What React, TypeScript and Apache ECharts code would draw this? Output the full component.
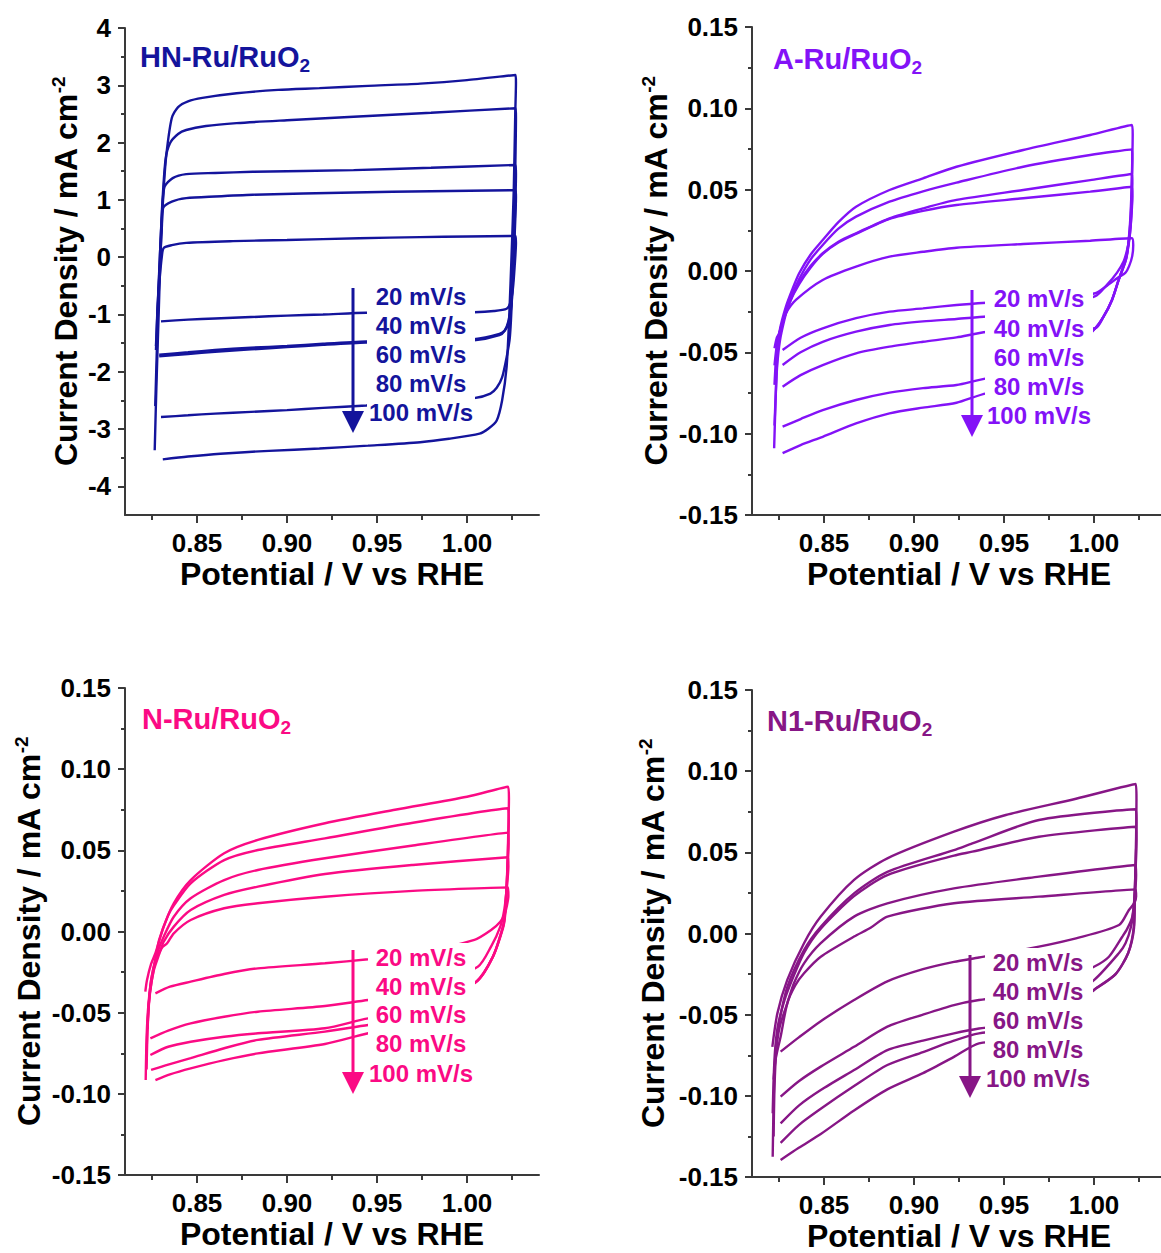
import React, { useEffect, useRef } from 'react';
import * as echarts from 'echarts';

type Pt = [number, number];

// ---------------- HN-Ru/RuO2 (current density, mA cm-2) ----------------
const hn20: Pt[] = [
  [0.828, -1.0], [0.8292, -0.4], [0.8305, 0.02], [0.8315, 0.16], [0.836, 0.21], [0.844, 0.25], [0.87, 0.28], [0.9, 0.3], [0.94, 0.33], [0.974, 0.35], [1.0, 0.36], [1.027, 0.37],
  [1.0272, 0.25], [1.0265, -0.15], [1.0255, -0.55], [1.024, -0.8], [1.022, -0.9], [1.015, -0.94], [1.004, -0.96], [0.975, -0.965], [0.944, -0.97],
  [0.92, -1.0], [0.9, -1.02], [0.88, -1.045], [0.86, -1.07], [0.845, -1.09], [0.83, -1.12],
];
const hn40: Pt[] = [
  [0.8272, -1.55], [0.8282, -0.8], [0.8295, -0.1], [0.8305, 0.55], [0.8312, 0.86], [0.836, 0.97], [0.844, 1.03], [0.86, 1.06], [0.881, 1.09], [0.937, 1.13], [0.98, 1.15], [1.027, 1.17],
  [1.0272, 1.05], [1.0265, 0.4], [1.0255, -0.4], [1.0245, -0.9], [1.023, -1.15], [1.021, -1.28], [1.018, -1.34], [1.004, -1.43], [0.975, -1.45], [0.944, -1.47],
  [0.92, -1.51], [0.9, -1.55], [0.88, -1.58], [0.86, -1.62], [0.845, -1.66], [0.829, -1.7],
];
const hn60: Pt[] = [
  [0.8272, -1.62], [0.8285, -0.6], [0.8298, 0.3], [0.8308, 0.9], [0.832, 1.23], [0.8365, 1.38], [0.844, 1.45], [0.86, 1.47], [0.881, 1.49], [0.937, 1.52], [0.98, 1.56], [1.027, 1.61],
  [1.0272, 1.45], [1.0265, 0.6], [1.0255, -0.3], [1.0245, -0.85], [1.023, -1.12], [1.021, -1.28], [1.018, -1.36], [1.004, -1.45], [0.975, -1.47], [0.944, -1.49],
  [0.92, -1.53], [0.9, -1.57], [0.88, -1.61], [0.86, -1.65], [0.845, -1.69], [0.829, -1.73],
];
const hn80: Pt[] = [
  [0.8268, -2.6], [0.8278, -1.5], [0.829, -0.3], [0.8305, 0.8], [0.8325, 1.7], [0.835, 1.99], [0.8395, 2.15], [0.844, 2.22], [0.855, 2.29], [0.872, 2.34], [0.9, 2.39], [0.937, 2.45], [0.98, 2.52], [1.027, 2.6],
  [1.0272, 2.45], [1.0268, 1.5], [1.026, 0.3], [1.025, -0.7], [1.0238, -1.4], [1.022, -1.75], [1.0195, -2.1], [1.0165, -2.28], [1.013, -2.38], [1.004, -2.46], [0.975, -2.52], [0.944, -2.59],
  [0.92, -2.63], [0.9, -2.67], [0.88, -2.7], [0.86, -2.73], [0.845, -2.76], [0.83, -2.79],
];
const hn100: Pt[] = [
  [0.8265, -3.37], [0.8275, -2.2], [0.8288, -0.9], [0.83, 0.3], [0.8315, 1.2], [0.833, 1.8], [0.836, 2.43], [0.8395, 2.62], [0.845, 2.72], [0.853, 2.78], [0.872, 2.86], [0.895, 2.92], [0.918, 2.95], [0.945, 2.99], [0.974, 3.03], [1.0, 3.09], [1.027, 3.18],
  [1.0272, 3.05], [1.0268, 2.5], [1.026, 1.2], [1.0248, 0.07], [1.0235, -1.0], [1.022, -1.92], [1.0195, -2.5], [1.0165, -2.85], [1.012, -2.99], [1.007, -3.08], [0.99, -3.17], [0.974, -3.23],
  [0.945, -3.29], [0.918, -3.34], [0.89, -3.38], [0.863, -3.43], [0.845, -3.48], [0.831, -3.53],
];

// ---------------- A-Ru/RuO2 ----------------
const a20: Pt[] = [
  [0.8225, -0.0475], [0.8238, -0.041], [0.8251, -0.0383], [0.827, -0.032], [0.8288, -0.026], [0.8344, -0.0178], [0.8493, -0.0055], [0.8678, 0.0027], [0.8864, 0.0088], [0.905, 0.0118], [0.9236, 0.0143], [0.9607, 0.0166], [0.9979, 0.0186], [1.0211, 0.0201],
  [1.0218, 0.016], [1.0212, 0.009], [1.0195, 0.003], [1.0175, -0.001], [1.0128, -0.0045], [1.0072, -0.009], [1.0007, -0.0137], [0.97, -0.0175], [0.9403, -0.0195],
  [0.9236, -0.0209], [0.905, -0.023], [0.8864, -0.025], [0.8678, -0.029], [0.8493, -0.0352], [0.837, -0.041], [0.827, -0.0486],
];
const a40: Pt[] = [
  [0.8225, -0.058], [0.8235, -0.048], [0.8248, -0.04], [0.827, -0.031], [0.831, -0.019], [0.8362, -0.008], [0.8425, 0.002], [0.8493, 0.0105], [0.858, 0.0175], [0.8678, 0.0228], [0.8864, 0.032], [0.905, 0.037], [0.9236, 0.0406], [0.9607, 0.0447], [0.9979, 0.0488], [1.0211, 0.0518],
  [1.0213, 0.046], [1.0208, 0.034], [1.0198, 0.021], [1.0184, 0.013], [1.0165, 0.006], [1.0128, -0.001], [1.0072, -0.0085], [1.0007, -0.0155], [0.97, -0.026], [0.9403, -0.028],
  [0.9236, -0.0295], [0.905, -0.031], [0.8864, -0.0332], [0.8678, -0.0373], [0.8493, -0.0435], [0.837, -0.05], [0.827, -0.0578],
];
const a60: Pt[] = [
  [0.8225, -0.07], [0.8232, -0.056], [0.8242, -0.045], [0.826, -0.035], [0.8295, -0.024], [0.8325, -0.015], [0.8362, -0.007], [0.8425, 0.003], [0.8493, 0.0109], [0.858, 0.018], [0.8678, 0.0232], [0.8864, 0.0324], [0.905, 0.0385], [0.9236, 0.0437], [0.9607, 0.0498], [0.9979, 0.0559], [1.0211, 0.0596],
  [1.0213, 0.054], [1.021, 0.04], [1.0203, 0.027], [1.0192, 0.016], [1.0175, 0.006], [1.0137, -0.0055], [1.01, -0.0178], [1.0053, -0.0281], [1.0007, -0.0352], [0.97, -0.036], [0.9403, -0.0375],
  [0.9236, -0.0408], [0.905, -0.0435], [0.8864, -0.0465], [0.8678, -0.0506], [0.8493, -0.0578], [0.837, -0.064], [0.827, -0.0711],
];
const a80: Pt[] = [
  [0.8225, -0.095], [0.8232, -0.075], [0.824, -0.058], [0.8255, -0.043], [0.828, -0.03], [0.831, -0.018], [0.8362, -0.005], [0.8425, 0.007], [0.8493, 0.016], [0.858, 0.026], [0.8678, 0.0334], [0.8864, 0.0426], [0.905, 0.049], [0.9236, 0.0543], [0.9607, 0.0641], [0.9979, 0.0713], [1.0211, 0.0748],
  [1.0213, 0.069], [1.021, 0.052], [1.0205, 0.035], [1.0195, 0.021], [1.018, 0.008], [1.0137, -0.0055], [1.01, -0.0178], [1.0053, -0.0281], [1.0007, -0.0352], [0.97, -0.063], [0.9403, -0.066],
  [0.9236, -0.0701], [0.905, -0.072], [0.8864, -0.0748], [0.8678, -0.0793], [0.8493, -0.0855], [0.837, -0.091], [0.827, -0.0957],
];
const a100: Pt[] = [
  [0.8223, -0.109], [0.8228, -0.09], [0.8234, -0.07], [0.8242, -0.05], [0.8255, -0.036], [0.8288, -0.022], [0.8325, -0.011], [0.8362, -0.0014], [0.8425, 0.01], [0.8493, 0.019], [0.858, 0.03], [0.8678, 0.0395], [0.8864, 0.0498], [0.905, 0.057], [0.9236, 0.0641], [0.9607, 0.0744], [0.9979, 0.0836], [1.0211, 0.0898],
  [1.0215, 0.084], [1.0212, 0.065], [1.0207, 0.045], [1.0198, 0.026], [1.0182, 0.01], [1.0137, -0.0055], [1.01, -0.0178], [1.0053, -0.0281], [1.0007, -0.0352], [0.97, -0.072], [0.9403, -0.0752],
  [0.9236, -0.081], [0.905, -0.084], [0.8864, -0.0875], [0.8678, -0.0937], [0.8493, -0.1019], [0.837, -0.107], [0.827, -0.112],
];

// ---------------- N-Ru/RuO2 ----------------
const n20: Pt[] = [
  [0.8225, -0.06], [0.8232, -0.045], [0.8245, -0.03], [0.827, -0.018], [0.8305, -0.01], [0.8334, -0.0073], [0.8371, -0.0011], [0.8465, 0.0071], [0.8651, 0.0143], [0.8838, 0.0174], [0.9211, 0.0214], [0.97, 0.025], [1.0228, 0.0272],
  [1.023, 0.022], [1.0222, 0.016], [1.021, 0.011], [1.0185, 0.006], [1.0134, 0.0009], [1.0041, -0.0052], [0.97, -0.014], [0.9451, -0.0171],
  [0.9211, -0.0196], [0.8838, -0.0227], [0.8651, -0.0262], [0.8465, -0.0309], [0.835, -0.034], [0.8269, -0.0381],
];
const n40: Pt[] = [
  [0.822, -0.075], [0.8226, -0.055], [0.8238, -0.038], [0.826, -0.024], [0.829, -0.014], [0.8315, -0.0063], [0.8371, 0.003], [0.8465, 0.0132], [0.8651, 0.0225], [0.8838, 0.0276], [0.9211, 0.0354], [0.97, 0.041], [1.0228, 0.0457],
  [1.023, 0.04], [1.0222, 0.028], [1.0208, 0.014], [1.0185, 0.003], [1.0135, -0.009], [1.006, -0.0217], [0.97, -0.039], [0.9451, -0.0422],
  [0.9211, -0.0459], [0.8838, -0.0494], [0.8651, -0.0525], [0.8465, -0.0566], [0.834, -0.061], [0.8241, -0.0658],
];
const n60: Pt[] = [
  [0.822, -0.085], [0.8225, -0.062], [0.8235, -0.042], [0.8255, -0.026], [0.828, -0.013], [0.8315, -0.0032], [0.8371, 0.0091], [0.8465, 0.0205], [0.8651, 0.0317], [0.8838, 0.0379], [0.9211, 0.0451], [0.97, 0.053], [1.0228, 0.0609],
  [1.0231, 0.054], [1.0225, 0.038], [1.0216, 0.02], [1.021, 0.01], [1.02, 0.003], [1.0144, -0.0155], [1.0051, -0.031], [0.97, -0.05], [0.9451, -0.0535],
  [0.9211, -0.0596], [0.8838, -0.0627], [0.8651, -0.0648], [0.8465, -0.0679], [0.834, -0.071], [0.8241, -0.0761],
];
const n80: Pt[] = [
  [0.8215, -0.0915], [0.822, -0.065], [0.823, -0.045], [0.8245, -0.03], [0.827, -0.016], [0.829, -0.005], [0.834, 0.01], [0.8371, 0.016], [0.8465, 0.0297], [0.8651, 0.044], [0.8838, 0.0502], [0.9211, 0.0574], [0.97, 0.067], [1.0228, 0.0759],
  [1.0232, 0.068], [1.0227, 0.048], [1.022, 0.028], [1.021, 0.01], [1.02, 0.003], [1.0144, -0.0155], [1.0051, -0.031], [0.97, -0.054], [0.9451, -0.0576],
  [0.9211, -0.0617], [0.8838, -0.0668], [0.8651, -0.0719], [0.8465, -0.078], [0.834, -0.082], [0.8245, -0.0853],
];
const n100: Pt[] = [
  [0.8213, -0.037], [0.8222, -0.03], [0.8245, -0.02], [0.8269, -0.0134], [0.8315, 0.003], [0.8371, 0.0174], [0.8465, 0.0317], [0.8651, 0.0482], [0.8838, 0.0564], [0.9211, 0.0667], [0.96, 0.075], [1.0, 0.083], [1.0228, 0.0892],
  [1.0233, 0.082], [1.0229, 0.06], [1.0222, 0.03], [1.0212, 0.01], [1.02, 0.002], [1.0144, -0.0155], [1.0051, -0.031], [0.97, -0.058], [0.9451, -0.0627],
  [0.9211, -0.0693], [0.8838, -0.0751], [0.8651, -0.0792], [0.8465, -0.0843], [0.835, -0.088], [0.8269, -0.0915],
];

// ---------------- N1-Ru/RuO2 ----------------
const m20: Pt[] = [
  [0.822, -0.09], [0.8232, -0.077], [0.8259, -0.0636], [0.8296, -0.043], [0.834, -0.032], [0.8389, -0.0245], [0.8482, -0.0143], [0.8667, -0.0019], [0.8759, 0.0035], [0.8852, 0.0104], [0.9222, 0.0186], [0.9694, 0.0227], [1.0232, 0.0272],
  [1.0234, 0.023], [1.0225, 0.019], [1.0194, 0.0145], [1.0139, 0.0052], [0.99, -0.003], [0.9694, -0.0081], [0.9361, -0.0148],
  [0.9222, -0.0175], [0.905, -0.022], [0.8852, -0.0295], [0.8667, -0.041], [0.8482, -0.054], [0.836, -0.064], [0.8259, -0.0728],
];
const m40: Pt[] = [
  [0.822, -0.125], [0.8225, -0.095], [0.8235, -0.072], [0.8255, -0.057], [0.8296, -0.043], [0.8333, -0.0307], [0.8389, -0.0184], [0.8482, -0.006], [0.8667, 0.0104], [0.8852, 0.0186], [0.9222, 0.0278], [0.9694, 0.035], [1.0232, 0.0422],
  [1.0234, 0.036], [1.0227, 0.024], [1.0212, 0.01], [1.0185, 0.003], [1.0157, -0.002], [1.0083, -0.0143], [1.0, -0.0205], [0.97, -0.036], [0.9361, -0.041],
  [0.9222, -0.0441], [0.905, -0.05], [0.8852, -0.0574], [0.8667, -0.0698], [0.8482, -0.082], [0.836, -0.091], [0.8259, -0.1005],
];
const m60: Pt[] = [
  [0.8215, -0.1107], [0.822, -0.09], [0.8228, -0.072], [0.8242, -0.058], [0.8265, -0.047], [0.8296, -0.036], [0.8389, -0.012], [0.8482, 0.003], [0.8667, 0.023], [0.8852, 0.036], [0.9222, 0.048], [0.9324, 0.0504], [0.9694, 0.0596], [1.0232, 0.0658],
  [1.0235, 0.058], [1.0231, 0.04], [1.0222, 0.018], [1.0205, 0.004], [1.0175, -0.006], [1.0139, -0.012], [1.0, -0.0287], [0.97, -0.053], [0.9361, -0.0585],
  [0.9222, -0.0615], [0.905, -0.066], [0.8852, -0.0718], [0.8667, -0.0841], [0.8482, -0.0964], [0.836, -0.106], [0.8259, -0.117],
];
const m80: Pt[] = [
  [0.8215, -0.1375], [0.8219, -0.11], [0.8225, -0.085], [0.8235, -0.068], [0.8252, -0.054], [0.8296, -0.033], [0.8389, -0.0102], [0.8482, 0.0042], [0.8667, 0.0247], [0.8852, 0.038], [0.9222, 0.0514], [0.9324, 0.0555], [0.9694, 0.0699], [1.0232, 0.0765],
  [1.0236, 0.068], [1.0233, 0.045], [1.0226, 0.02], [1.0222, 0.003], [1.019, -0.012], [1.012, -0.025], [1.0, -0.0348], [0.97, -0.057], [0.9361, -0.0615],
  [0.9222, -0.066], [0.905, -0.073], [0.8852, -0.081], [0.8667, -0.094], [0.8482, -0.108], [0.836, -0.118], [0.8259, -0.129],
];
const m100: Pt[] = [
  [0.8213, -0.0698], [0.8241, -0.0492], [0.8296, -0.0286], [0.8389, -0.006], [0.8482, 0.0104], [0.8667, 0.033], [0.8852, 0.0463], [0.9222, 0.0627], [0.951, 0.073], [0.99, 0.083], [1.0232, 0.0921],
  [1.0236, 0.083], [1.0234, 0.06], [1.0228, 0.03], [1.0222, 0.005], [1.019, -0.012], [1.012, -0.025], [1.0, -0.0348], [0.97, -0.063], [0.9361, -0.0677],
  [0.9222, -0.076], [0.905, -0.086], [0.8852, -0.096], [0.8667, -0.109], [0.8482, -0.1235], [0.836, -0.132], [0.8259, -0.1395],
];

// ---------------- Axes / labels ----------------
const scanRateLabels = ['20 mV/s', '40 mV/s', '60 mV/s', '80 mV/s', '100 mV/s'];
const panelNames = ['HN-Ru/RuO', 'A-Ru/RuO', 'N-Ru/RuO', 'N1-Ru/RuO'];
const panelColors = ['#14149c', '#8312f7', '#fb0a84', '#871686'];
const xLabelTicks = [0.85, 0.9, 0.95, 1.0];
const xMinorTicks = [0.825, 0.875, 0.925, 0.975, 1.025];
const yLabelTicksHN = [-4, -3, -2, -1, 0, 1, 2, 3, 4];
const yMinorTicksHN = [-3.5, -2.5, -1.5, -0.5, 0.5, 1.5, 2.5, 3.5];
const yLabelTicksSmall = [-0.15, -0.1, -0.05, 0, 0.05, 0.1, 0.15];
const yMinorTicksSmall = [-0.125, -0.075, -0.025, 0.025, 0.075, 0.125];
const xRange = [0.81, 1.04];
const yRangeHN = [-4.5, 4];
const yRangeSmall = [-0.15, 0.15];

const FONT = 'Arial, "Liberation Sans", Helvetica, sans-serif';
const AXIS_COLOR = '#3a3a3a';

const panels = [
  { loops: [hn20, hn40, hn60, hn80, hn100], yRange: yRangeHN, yMajor: yLabelTicksHN, yMinor: yMinorTicksHN, dec: 0 },
  { loops: [a20, a40, a60, a80, a100], yRange: yRangeSmall, yMajor: yLabelTicksSmall, yMinor: yMinorTicksSmall, dec: 2 },
  { loops: [n20, n40, n60, n80, n100], yRange: yRangeSmall, yMajor: yLabelTicksSmall, yMinor: yMinorTicksSmall, dec: 2 },
  { loops: [m20, m40, m60, m80, m100], yRange: yRangeSmall, yMajor: yLabelTicksSmall, yMinor: yMinorTicksSmall, dec: 2 },
];

// layout (pixels)
const layouts = [
  { grid: { left: 125, top: 28, width: 414, height: 487 }, yGap: 42, title: [140, 59], arrow: [353, 288, 433], labelX: 421, labelY: [296, 325, 354, 383, 412], box: [367, 287, 108, 139] },
  { grid: { left: 752, top: 27, width: 414, height: 488 }, yGap: 79, title: [773, 61], arrow: [972, 290, 437], labelX: 1039, labelY: [298, 328, 357, 386, 415], box: [985, 287, 108, 141] },
  { grid: { left: 125, top: 688, width: 414, height: 487 }, yGap: 79, title: [142, 721], arrow: [353, 950, 1094], labelX: 421, labelY: [957, 986, 1014, 1043, 1073], box: [368, 943, 107, 145] },
  { grid: { left: 752, top: 690, width: 414, height: 487 }, yGap: 82, title: [767, 723], arrow: [970, 955, 1098], labelX: 1038, labelY: [962, 991, 1020, 1049, 1078], box: [985, 948, 108, 144] },
];

function buildOption() {
  const grid: any[] = [];
  const xAxis: any[] = [];
  const yAxis: any[] = [];
  const series: any[] = [];
  const graphic: any[] = [];
  const tickLabelStyle = { color: '#000', fontSize: 26, fontWeight: 'bold', fontFamily: FONT };

  panels.forEach((p, i) => {
    const L = layouts[i];
    const color = panelColors[i];
    grid.push({ ...L.grid, containLabel: false, outerBoundsMode: 'none' });

    xAxis.push({
      type: 'value', gridIndex: i, position: 'bottom', min: xRange[0], max: xRange[1],
      axisLine: { show: true, onZero: false, lineStyle: { color: AXIS_COLOR, width: 2 } },
      axisTick: { show: true, length: 8, customValues: xLabelTicks, lineStyle: { color: AXIS_COLOR, width: 2 } },
      axisLabel: { show: true, customValues: xLabelTicks, margin: 15, formatter: (v: number) => v.toFixed(2), ...tickLabelStyle },
      splitLine: { show: false },
      name: 'Potential / V vs RHE', nameLocation: 'middle', nameGap: 43,
      nameTextStyle: { color: '#000', fontSize: 32, fontWeight: 'bold', fontFamily: FONT },
    });
    xAxis.push({
      type: 'value', gridIndex: i, position: 'bottom', min: xRange[0], max: xRange[1],
      axisLine: { show: false, onZero: false },
      axisTick: { show: true, length: 5, customValues: xMinorTicks, lineStyle: { color: AXIS_COLOR, width: 2 } },
      axisLabel: { show: false }, splitLine: { show: false },
    });
    yAxis.push({
      type: 'value', gridIndex: i, position: 'left', min: p.yRange[0], max: p.yRange[1],
      axisLine: { show: true, onZero: false, lineStyle: { color: AXIS_COLOR, width: 2 } },
      axisTick: { show: true, length: 7, customValues: p.yMajor, lineStyle: { color: AXIS_COLOR, width: 2 } },
      axisLabel: { show: true, customValues: p.yMajor, margin: 14, formatter: (v: number) => v.toFixed(p.dec), ...tickLabelStyle },
      splitLine: { show: false },
      name: '{m|Current Density / mA cm}{u|-2}', nameLocation: 'middle', nameGap: L.yGap,
      nameTextStyle: {
        color: '#000', fontSize: 32, fontWeight: 'bold', fontFamily: FONT,
        rich: {
          m: { color: '#000', fontSize: 32, fontWeight: 'bold', fontFamily: FONT, lineHeight: 34 },
          u: { color: '#000', fontSize: 19, fontWeight: 'bold', fontFamily: FONT, lineHeight: 19, verticalAlign: 'top' },
        },
      },
    });
    yAxis.push({
      type: 'value', gridIndex: i, position: 'left', min: p.yRange[0], max: p.yRange[1],
      axisLine: { show: false, onZero: false },
      axisTick: { show: true, length: 4, customValues: p.yMinor, lineStyle: { color: AXIS_COLOR, width: 2 } },
      axisLabel: { show: false }, splitLine: { show: false },
    });

    p.loops.forEach((loop, k) => {
      series.push({
        type: 'line', name: `${panelNames[i]}2 ${scanRateLabels[k]}`,
        xAxisIndex: i * 2, yAxisIndex: i * 2, data: loop,
        showSymbol: false, symbol: 'none', silent: true, z: 2, smooth: 0.25,
        lineStyle: { color, width: 2.4 }, itemStyle: { color },
      });
    });

    // white mask behind scan-rate labels
    const [bx, by, bw, bh] = L.box;
    graphic.push({ type: 'rect', z: 50, silent: true, shape: { x: bx, y: by, width: bw, height: bh }, style: { fill: '#ffffff' } });
    // arrow
    const [ax, ay1, ay2] = L.arrow;
    graphic.push({ type: 'line', z: 60, silent: true, shape: { x1: ax, y1: ay1, x2: ax, y2: ay2 - 18 }, style: { stroke: color, lineWidth: 3 } });
    graphic.push({ type: 'polygon', z: 60, silent: true, shape: { points: [[ax - 11, ay2 - 22], [ax + 11, ay2 - 22], [ax, ay2]] }, style: { fill: color } });
    // labels
    scanRateLabels.forEach((t, k) => {
      graphic.push({
        type: 'text', z: 60, silent: true, x: L.labelX, y: L.labelY[k],
        style: { text: t, fill: color, fontSize: 24, fontWeight: 'bold', fontFamily: FONT, align: 'center', verticalAlign: 'middle' },
      });
    });
    // panel title with subscript
    graphic.push({
      type: 'text', z: 60, silent: true, x: L.title[0], y: L.title[1],
      style: {
        text: `{m|${panelNames[i]}}{s|2}`, align: 'left', verticalAlign: 'middle',
        rich: {
          m: { fill: color, color, fontSize: 29, fontWeight: 'bold', fontFamily: FONT, lineHeight: 31, padding: [0, 0, 5, 0] },
          s: { fill: color, color, fontSize: 19, fontWeight: 'bold', fontFamily: FONT, lineHeight: 19, verticalAlign: 'bottom' },
        },
      },
    });
  });

  return { animation: false, backgroundColor: '#ffffff', grid, xAxis, yAxis, series, graphic };
}

export default function App() {
  const ref = useRef<HTMLDivElement>(null);
  useEffect(() => {
    if (!ref.current) return;
    const chart = echarts.init(ref.current, null, { renderer: 'svg' });
    chart.setOption(buildOption() as any);
    return () => chart.dispose();
  }, []);
  return (
    <div style={{ position: 'absolute', left: 0, top: 0, width: 1161, height: 1253, overflow: 'hidden', background: '#fff' }}>
      <div ref={ref} style={{ width: 1161, height: 1253 }} />
    </div>
  );
}
